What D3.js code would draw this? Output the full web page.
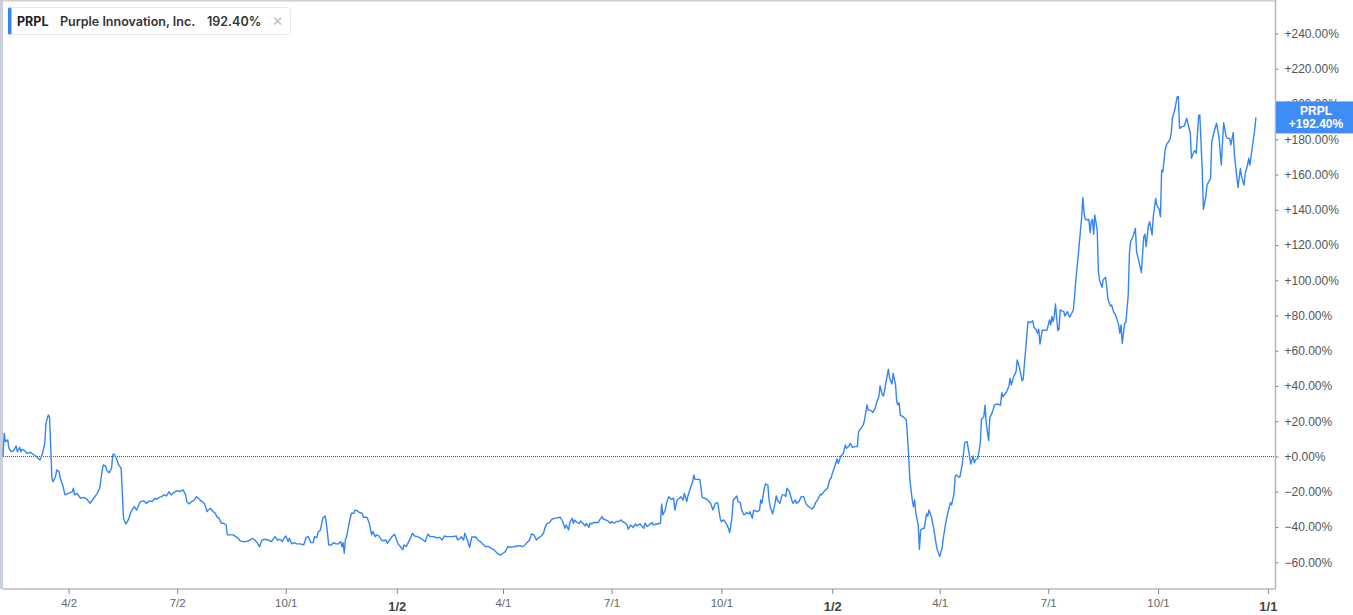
<!DOCTYPE html>
<html><head><meta charset="utf-8">
<script src="https://cdn.jsdelivr.net/npm/d3@7"></script>
<style>body{margin:0;background:#fff;overflow:hidden}svg{display:block}</style>
</head><body>
<svg id="chart" width="1353" height="615"></svg>
<script>
// ---- data (day offsets since the first date, % change) ----
const firstDate = "2018-02-06";
const lastDate = "2021-01-07";
const ticker = "PRPL";
const companyName = "Purple Innovation, Inc.";
const lastChange = 192.40;

const period2018 = [[0,0],[1,13.1],[2,8.4],[4,9.4],[5,4.6],[7,2.7],[9,3.3],[11,6],[12,2.7],[14,5.2],[15,2.7],[16,4],[18,3.5],[20,1.8],[23,2.4],[25,1.4],[28,0],[31,-2],[33,1.4],[35,7.5],[36,18.8],[38,23.5],[39,22.6],[41,-12.4],[42,-14.3],[44,-11.4],[45,-7.7],[47,-8.6],[48,-12.4],[49,-14.3],[50,-16.2],[52,-21.8],[55,-20.9],[58,-20],[59,-18],[60,-21.8],[62,-20.9],[65,-23.7],[67,-23.2],[70,-24],[73,-26.6],[76,-23.7],[79,-20.9],[81,-18],[83,-8.6],[84,-4.8],[86,-5.4],[87,-8],[89,-9.2],[91,-6.7],[92,0.9],[93,1.4],[95,-1],[97,-4.8],[99,-6.7],[100,-20.9],[101,-35],[103,-38.3],[105,-36],[107,-31.9],[109,-29.4],[110,-28.4],[112,-30.4],[115,-25.6],[118,-25.2],[120,-26.6],[123,-25.2],[125,-25.6],[127,-23.7],[129,-24.3],[131,-23.2],[133,-22.8],[135,-21.8],[137,-22.4],[139,-20],[141,-21.8],[143,-20.5],[146,-19.4],[148,-20],[151,-19],[153,-21.8],[154,-25.6],[156,-26.9],[158,-25.6],[160,-25],[162,-22.8],[165,-24.6],[167,-25.6],[169,-26.9],[171,-31.3],[172,-30.4],[174,-29.4],[176,-31.3],[178,-32.2],[179,-34.1],[181,-35],[183,-37.9],[185,-37.9],[187,-38.9],[188,-44.5],[190,-44.5],[193,-44.5],[196,-45.9],[199,-47.9],[201,-48.3],[204,-48.3],[207,-47.4],[209,-46.4],[211,-47.4],[213,-48.9],[215,-51.2],[217,-47.4],[220,-47],[222,-47.4],[225,-48.3],[228,-45.5],[230,-47.4],[232,-47],[234,-48.3],[236,-45.9],[237,-45.1],[239,-48.3],[240,-46.4],[242,-49.6],[244,-48.9],[246,-49.6],[249,-49.6],[252,-50.2],[254,-45.9],[256,-45.5],[258,-48.9],[260,-48.9],[261,-45.5],[263,-46.1],[264,-43]];

const period2019 = [[266,-41.7],[268,-35],[270,-33.8],[271,-37.9],[273,-50.2],[275,-50.2],[277,-48.9],[279,-49.6],[281,-49.6],[283,-48.3],[284,-51.2],[285,-48.9],[286,-54.9],[287,-47],[288,-45.5],[290,-37.9],[292,-32.2],[294,-32.2],[295,-30.4],[297,-30.9],[299,-31.9],[301,-32.2],[302,-34.5],[305,-34.5],[307,-37.9],[309,-44.5],[310,-42.6],[312,-45.5],[313,-44.5],[315,-45.1],[317,-47.4],[319,-47.8],[321,-47.4],[322,-49.3],[324,-47.4],[326,-45.5],[328,-44.1],[329,-45.5],[331,-49.6],[333,-51.1],[335,-53],[336,-50.2],[338,-51.1],[340,-48.3],[342,-45.5],[343,-43.6],[345,-45.1],[347,-45.5],[349,-45.9],[352,-47.4],[354,-48.3],[355,-45.9],[356,-44],[358,-45.5],[361,-45.5],[363,-46.1],[366,-45.9],[368,-47.4],[370,-45.1],[372,-45.5],[375,-45.5],[377,-45.5],[380,-45.1],[381,-47.4],[383,-46.4],[384,-45.5],[386,-47.4],[387,-43.6],[389,-47],[390,-49.3],[391,-51.5],[393,-45.5],[395,-45.9],[396,-45.5],[398,-47.4],[400,-48.3],[402,-49.6],[404,-51.1],[407,-51.1],[409,-52],[411,-52.7],[413,-54],[415,-55.3],[417,-55.9],[419,-54.9],[421,-54],[423,-51.2],[425,-51.5],[428,-51.2],[431,-50.8],[433,-50.6],[435,-51.2],[437,-50.6],[439,-48.9],[441,-47.7],[443,-44],[445,-44.5],[447,-47.4],[449,-46.1],[451,-45.1],[453,-43.6],[454,-40.8],[456,-37.9],[458,-37.5],[460,-35.6],[463,-35],[465,-34.7],[467,-34.5],[469,-36.9],[471,-40.8],[472,-38.9],[474,-41.7],[475,-37.5],[477,-35],[478,-37.9],[479,-36],[481,-37.5],[483,-37.9],[484,-36.6],[486,-37.9],[488,-39.4],[489,-37.9],[491,-40.2],[492,-37.9],[493,-38.3],[495,-37.5],[497,-37.5],[499,-37.5],[500,-36],[502,-34.1],[503,-35.6],[505,-36],[507,-36.6],[509,-37.9],[510,-36.9],[512,-37.9],[514,-36.9],[516,-36.9],[518,-36],[519,-36.9],[521,-37.5],[523,-38.9],[524,-41.3],[526,-38.9],[527,-39.4],[528,-40.4],[530,-38.3],[531,-39.4],[533,-38.5]];

const period2019b = [[534,-38.3],[535,-39.3],[537,-40.8],[538,-37.9],[540,-39.8],[542,-38.5],[544,-37.5],[545,-38.8],[548,-38.3],[551,-37.9],[552,-27],[553,-33.2],[555,-30.4],[556,-26.6],[558,-22.8],[560,-24.3],[562,-23.7],[563,-30.4],[565,-24.7],[567,-23.7],[568,-22.8],[570,-24.7],[571,-20.9],[573,-25.6],[574,-22.4],[576,-18],[578,-14.3],[579,-10.5],[580,-13],[582,-13],[584,-13],[586,-23.2],[588,-23.7],[590,-24.3],[593,-26.6],[595,-30.4],[597,-26.6],[599,-26.2],[601,-35],[602,-37],[604,-36],[606,-37.9],[608,-40.8],[609,-43.2],[611,-34.1],[612,-24.7],[615,-22.4],[616,-25.6],[618,-26.2],[619,-30.4],[621,-33.2],[623,-31.9],[625,-32.6],[626,-31.3],[628,-35],[629,-30.6],[632,-31.3],[634,-30.6],[635,-24.7],[636,-26.6],[638,-17.9],[639,-15.6],[641,-16.2],[642,-24.7],[643,-28.5],[645,-32.6],[647,-26.6],[648,-22.4],[649,-24.7],[651,-26.6],[653,-21.8],[655,-21.8],[656,-22.8],[657,-18],[659,-19.9],[661,-24.7],[662,-26.6],[664,-24.7],[665,-26.6],[667,-25.6],[669,-22.8],[671,-22.8],[673,-26.9],[675,-28.4],[678,-29.8],[680,-28.1],[681,-26.2],[683,-24.3],[685,-21.3],[686,-21.8],[688,-19.9],[690,-18.6],[691,-18],[693,-13],[694,-12.4],[695,-9.6],[697,-5.8],[699,-1.4],[700,-3.9],[702,-0.1],[703,0.9],[704,1.4],[706,6.5],[707,4.6],[709,6],[710,7.5],[712,5.2],[714,5.6],[716,5.6],[717,14.1],[719,16],[721,17.9],[722,20.7],[724,29.2],[725,26.3],[727,26.3],[729,24.9],[731,27.4],[732,30.2],[734,33.9],[735,40],[737,34.9],[738,34.4],[740,42.4],[742,49.5],[743,44.4],[745,41.1],[746,47.2],[748,40.6],[749,31.1],[750,29.2],[751,30.5],[752,23.5],[755,22.2],[757,20.7],[758,11.3],[759,0],[760,-13.1],[762,-24.7],[763,-28.5],[764,-24.7],[765,-32.2],[767,-38.9],[768,-52.7],[769,-41.7],[771,-40.8],[772,-40.8],[774,-32.6],[775,-33.8],[776,-30.4],[778,-34.1],[780,-40.8],[782,-49.6],[783,-53],[785,-56.8],[787,-52.1],[788,-46.4],[790,-38],[792,-31.3],[794,-26.2],[795,-27.5],[797,-20.9],[798,-11.1],[799,-10.5],[801,-11.8]];

const period2020 = [[802,-11.4],[804,-3.9],[806,7.8],[808,8.4],[810,0],[811,-4.3],[813,0.3],[814,-3.5],[815,-2],[817,-1],[819,7.5],[820,21.1],[822,22.6],[823,29.2],[824,18.8],[826,9],[827,22.2],[829,24.9],[831,29.2],[833,29.8],[836,29.2],[837,36.2],[838,33.9],[841,36.7],[843,39.9],[844,44.4],[845,40.6],[847,45.3],[849,48.1],[850,54.8],[852,50],[854,43],[855,43.8],[856,52.8],[857,60.4],[859,76.5],[861,75.9],[863,77],[864,73.3],[866,71.8],[867,69.9],[868,72.2],[869,63.8],[871,71.8],[873,71.4],[874,71.8],[875,71.8],[877,77.5],[878,74.7],[879,79.4],[880,76.5],[881,79.4],[882,86.5],[884,71.4],[885,72.2],[886,83.1],[889,82.2],[890,79.7],[892,82.2],[894,79],[897,83.1],[898,90.7],[899,99.2],[901,113.4],[903,128.5],[904,136.1],[905,147],[906,138],[907,134.6],[909,134.2],[910,134.6],[911,127],[912,133.2],[913,134.6],[914,126.2],[915,137],[917,128.5],[918,104.9],[919,99.8],[921,96],[922,100.2],[924,101.7],[925,96.3],[926,89.2],[928,85.4],[929,86],[931,81.6],[932,80.9],[933,79],[935,74.7],[936,69.9],[937,74.7],[938,64.2],[940,75.5],[941,75.9],[943,91.6],[944,115.3],[945,121.9],[947,124.7],[949,129.4],[950,116.2],[952,110.4],[954,104.3],[956,124.7],[957,126.2],[958,119.1],[960,131.4],[961,133.2],[963,125.7],[964,136.1],[966,146.4],[967,142.6],[969,140.2],[970,136.1],[971,162.5],[972,161.5],[974,173.9],[975,176.8],[978,180],[979,183.4],[980,191.9],[982,196.6],[984,204.2],[985,204.2],[986,186.2],[988,187.2],[990,187.5],[992,191.9],[993,189.1],[995,183.4],[996,169.2],[998,173],[999,173.5],[1000,172],[1002,193.4],[1003,193.8],[1005,162.5],[1006,140.2],[1008,147.4],[1009,154],[1012,157.8],[1013,178.6],[1015,184.3],[1017,189.1],[1019,181.5],[1021,165.4],[1022,178.6],[1023,189.4],[1025,181.5],[1026,180.5],[1028,180.5],[1029,176.8],[1031,183.8],[1032,171.1],[1034,158.7],[1035,152.7],[1037,163.5],[1038,158.7],[1040,154],[1041,160.6],[1043,165.4],[1044,169.2],[1045,165.4],[1047,175.8],[1049,185.3],[1050,192.4]];

const tickDates = ["2018-04-02","2018-07-02","2018-10-01","2019-01-02","2019-04-01","2019-07-01","2019-10-01","2020-01-02","2020-04-01","2020-07-01","2020-10-01","2021-01-01"];
const tickLabels = ["4/2","7/2","10/1","1/2","4/1","7/1","10/1","1/2","4/1","7/1","10/1","1/1"];
const tickYearStart = [false,false,false,true,false,false,false,true,false,false,false,true];
const yTicks = [-60,-40,-20,0,20,40,60,80,100,120,140,160,180,200,220,240];

// ---- drawing ----
const W = 1353, H = 615;
const LINE = "#3385f5";
const parse = d3.timeParse("%Y-%m-%d");
const t0 = parse(firstDate);
const data = [].concat(period2018, period2019, period2019b, period2020)
  .map(([d, v]) => ({date: d3.timeDay.offset(t0, d), v}));

const x = d3.scaleTime().domain([t0, parse(lastDate)]).range([3, 1275]);
const y = d3.scaleLinear().domain([-75.2, 257.9]).range([589, 2]);

const svg = d3.select("#chart");

// frame
svg.append("line").attr("x1", 0).attr("x2", 1275).attr("y1", 0.75).attr("y2", 0.75)
  .attr("stroke", "#cfcfcf").attr("stroke-width", 1.5);
svg.append("line").attr("x1", 1.5).attr("x2", 1.5).attr("y1", 0).attr("y2", 589)
  .attr("stroke", "#c9cfdc").attr("stroke-width", 3);

// y axis on the right
const yAxis = d3.axisRight(y).tickValues(yTicks).tickSize(3).tickPadding(6)
  .tickFormat(v => (v >= 0 ? "+" : "") + d3.format(".2f")(v) + "%");
const gy = svg.append("g").attr("transform", "translate(1275.5,0)").call(yAxis);
gy.select(".domain").attr("stroke", "#b8b8b8").attr("stroke-width", 1.5)
  .attr("d", `M0,${y.range()[1] - 2}V${y.range()[0]}`);
gy.selectAll(".tick line").attr("stroke", "#888");
gy.selectAll(".tick text").attr("fill", "#555")
  .style("font-family", "'Liberation Sans', Arial, sans-serif").style("font-size", "12px");

// x axis
const xAxis = d3.axisBottom(x).tickValues(tickDates.map(parse)).tickSize(5).tickPadding(5)
  .tickFormat((d, i) => tickLabels[i]);
const gx = svg.append("g").attr("transform", "translate(0,589)").call(xAxis);
gx.select(".domain").attr("stroke", "#b8b8b8").attr("stroke-width", 1.5)
  .attr("d", `M${x.range()[0]},0H${x.range()[1] + 0.75}`);
gx.selectAll(".tick line").attr("stroke", "#888");
gx.selectAll(".tick text")
  .attr("fill", (d, i) => tickYearStart[i] ? "#444" : "#666")
  .attr("dy", (d, i) => tickYearStart[i] ? "0.95em" : "0.71em")
  .style("font-family", "'Liberation Sans', Arial, sans-serif")
  .style("font-size", (d, i) => tickYearStart[i] ? "13px" : "11.5px")
  .style("font-weight", (d, i) => tickYearStart[i] ? "bold" : "normal");

// zero line
svg.append("line").attr("x1", x.range()[0]).attr("x2", 1275)
  .attr("y1", Math.round(y(0)) + 0.5).attr("y2", Math.round(y(0)) + 0.5)
  .attr("stroke", "#555").attr("stroke-width", 1).attr("stroke-dasharray", "1,1");

// series line
svg.append("path").datum(data)
  .attr("fill", "none").attr("stroke", LINE).attr("stroke-width", 1.4)
  .attr("stroke-linejoin", "round")
  .attr("d", d3.line().x(d => x(d.date)).y(d => y(d.v)));

// last value label on the axis
const ly = y(lastChange);
const lab = svg.append("g");
lab.append("rect").attr("x", 1276).attr("y", ly - 16).attr("width", W - 1276).attr("height", 32)
  .attr("fill", "#3f8cf6");
lab.append("text").attr("x", 1316).attr("y", ly - 6).attr("text-anchor", "middle")
  .attr("dominant-baseline", "middle").attr("fill", "#fff")
  .style("font-family", "'Liberation Sans', Arial, sans-serif").style("font-size", "12px")
  .style("font-weight", "bold").text(ticker);
lab.append("text").attr("x", 1316).attr("y", ly + 7).attr("text-anchor", "middle")
  .attr("dominant-baseline", "middle").attr("fill", "#fff")
  .style("font-family", "'Liberation Sans', Arial, sans-serif").style("font-size", "12px")
  .style("font-weight", "bold").text("+" + d3.format(".2f")(lastChange) + "%");

// legend chip
const lg = svg.append("g");
lg.append("rect").attr("x", 8.5).attr("y", 7.5).attr("width", 282).attr("height", 27).attr("rx", 3)
  .attr("fill", "#fff").attr("stroke", "#e8e8e8");
lg.append("rect").attr("x", 8).attr("y", 7.5).attr("width", 3.5).attr("height", 27).attr("rx", 1.5)
  .attr("fill", LINE);
const lt = (xx, txt, weight, fill, size) => lg.append("text").attr("x", xx).attr("y", 26)
  .attr("fill", fill).style("font-family", "Inter, 'Noto Sans', sans-serif")
  .style("font-size", size + "px").style("font-weight", weight).text(txt);
lt(17, ticker, 700, "#222", 12.5);
lt(60, companyName, 600, "#333", 12.5);
lt(207, d3.format(".2f")(lastChange) + "%", 600, "#333", 12.5);
lt(272, "\u00d7", 400, "#bdbdbd", 17);
</script>
</body></html>
